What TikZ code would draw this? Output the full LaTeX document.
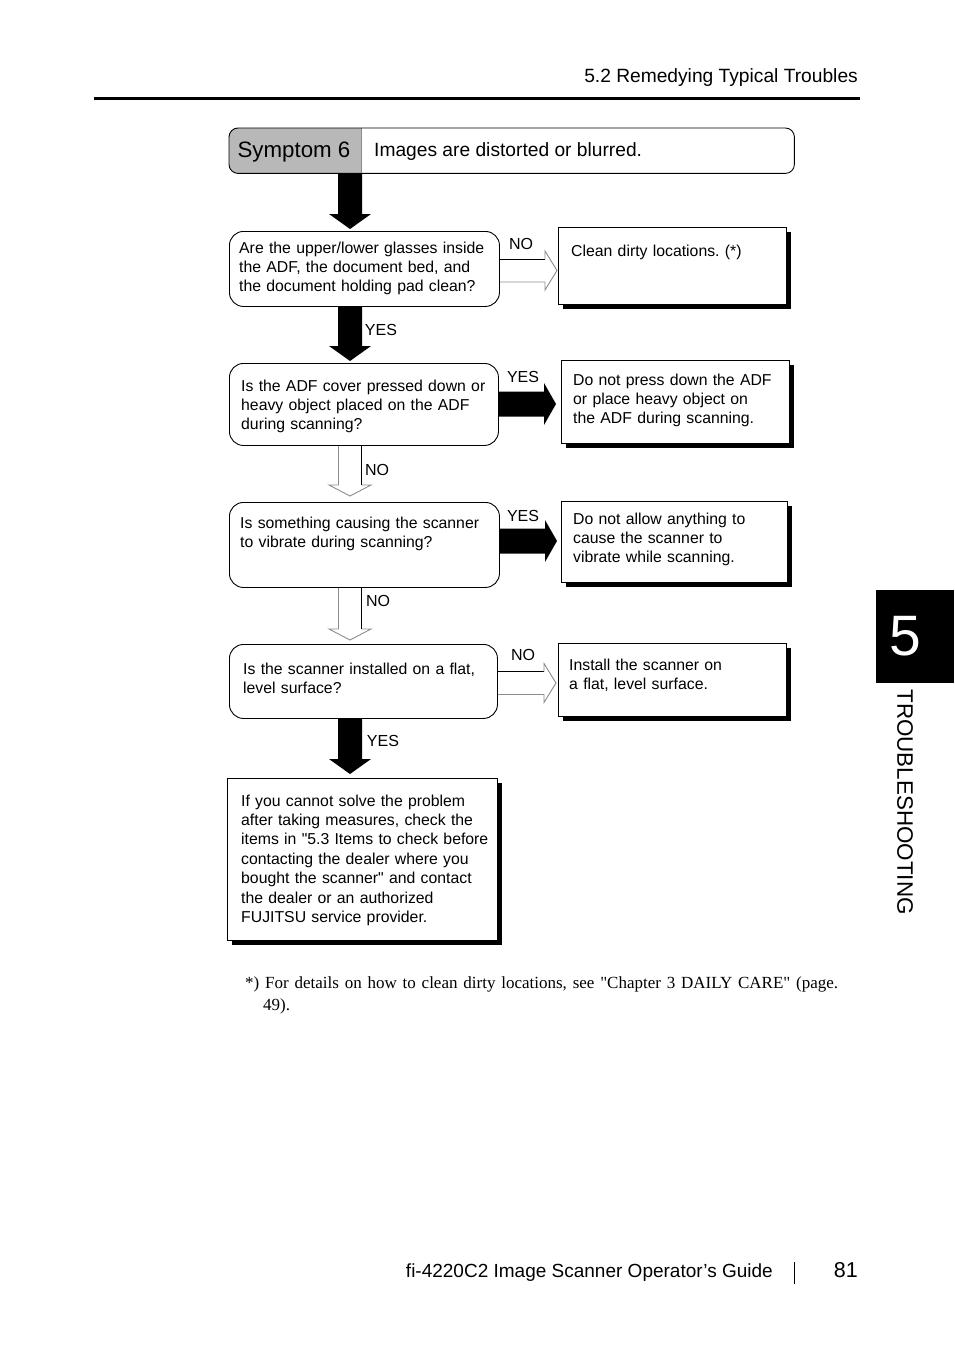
\documentclass[tikz,border=0pt]{standalone}
\usepackage{fontspec}
\setmainfont{Liberation Sans}
\newfontfamily\sansface{Liberation Sans}
\newfontfamily\serifface{Liberation Serif}
\usetikzlibrary{calc,shadows}
\definecolor{symgray}{gray}{0.72}
\definecolor{edgegray}{gray}{0.55}
\newcommand\bodyfont{\fontsize{15.8pt}{19.4pt}\selectfont}
\newcommand\blackdown[2]{\fill ($(#1)+(-12,0)$) -- ($(#2)+(-12,-15)$) -- ($(#2)+(-21,-15)$) -- (#2) -- ($(#2)+(21,-15)$) -- ($(#2)+(12,-15)$) -- ($(#1)+(12,0)$) -- cycle;}
\newcommand\blackright[2]{\fill ($(#1)+(0,-12.5)$) -- ($(#2)+(-12,-12.5)$) -- ($(#2)+(-12,-21)$) -- (#2) -- ($(#2)+(-12,21)$) -- ($(#2)+(-12,12.5)$) -- ($(#1)+(0,12.5)$) -- cycle;}
\newcommand\hollowdown[2]{%
  \draw[edgegray, line width=0.9pt] ($(#1)+(-11.5,0)$) -- ($(#2)+(-11.5,-11)$) -- ($(#2)+(-21,-11)$) -- (#2) -- ($(#2)+(21,-11)$) -- ($(#2)+(11.5,-11)$);
  \draw[black, line width=0.9pt] ($(#2)+(11.5,-11)$) -- ($(#1)+(11.5,0)$);}
\newcommand\hollowright[2]{%
  \draw[black, line width=0.9pt] ($(#1)+(0,-11.5)$) -- ($(#2)+(-12,-11.5)$);
  \draw[edgegray, line width=0.9pt] ($(#2)+(-12,-11.5)$) -- ($(#2)+(-12,-19.5)$) -- (#2) -- ($(#2)+(-12,19.5)$) -- ($(#2)+(-12,11.5)$) -- ($(#1)+(0,11.5)$);}
\begin{document}
\sansface\frenchspacing
\begin{tikzpicture}[x=1pt,y=-1pt,
  qbox/.style={draw, line width=0.9pt, rounded corners=14pt, inner sep=0pt, anchor=north west},
  rbox/.style={draw, fill=white, line width=0.9pt, inner sep=0pt, anchor=north west,
     drop shadow={shadow xshift=5pt, shadow yshift=-5pt, fill=black, opacity=1}},
  txt/.style={anchor=base west, inner sep=0pt, text width=300pt, align=left, font=\bodyfont},
  lab/.style={inner sep=0pt, font=\fontsize{16pt}{16pt}\selectfont}]
\useasboundingbox (0,0) rectangle (954,1351);
\fill[white] (0,0) rectangle (954,1351);

% header
\node[anchor=base east, inner sep=0pt, font=\fontsize{19.2pt}{20pt}\selectfont] (head) at (858,83) {5.2 Remedying Typical Troubles};
\draw[line width=3pt] (94,99) -- (860,99);

% symptom box
\node[minimum width=565pt, minimum height=45pt, anchor=north west, inner sep=0pt] (sym) at (229,128) {};
\begin{scope}
  \clip[rounded corners=9pt] (sym.north west) rectangle (sym.south east);
  \fill[symgray] (sym.north west) rectangle (361,173);
\end{scope}
\draw[edgegray, line width=0.8pt] (361,128) -- (361,173);
\draw[rounded corners=9pt, line width=0.9pt] (sym.north west) rectangle (sym.south east);
\node[anchor=base, inner sep=0pt, font=\fontsize{22.3pt}{23pt}\selectfont] (symlab) at (294,158) {Symptom 6};
\node[anchor=base west, inner sep=0pt, font=\fontsize{19.2pt}{20pt}\selectfont] (symtxt) at (374,157) {Images are distorted or blurred.};

% boxes
\node[qbox, minimum width=270pt, minimum height=75pt] (q1) at (229,231) {};
\node[rbox, minimum width=228pt, minimum height=77pt] (r1) at (558,227) {};
\node[qbox, minimum width=269pt, minimum height=82pt] (q2) at (229,363) {};
\node[rbox, minimum width=228pt, minimum height=83pt] (r2) at (561,360) {};
\node[qbox, minimum width=270pt, minimum height=85pt] (q3) at (229,502) {};
\node[rbox, minimum width=226pt, minimum height=81pt] (r3) at (561,501) {};
\node[qbox, minimum width=268pt, minimum height=74pt] (q4) at (229,644) {};
\node[rbox, minimum width=228pt, minimum height=73pt] (r4) at (558,643) {};
\node[rbox, minimum width=270pt, minimum height=162pt] (fin) at (227,778) {};

% texts
\node[txt] (t1) at (239,253) {Are the upper/lower glasses inside\\the ADF, the document bed, and\\the document holding pad clean?};
\node[txt] (tr1) at (571,256) {Clean dirty locations. (*)};
\node[txt] (t2) at (241,391) {Is the ADF cover pressed down or\\heavy object placed on the ADF\\during scanning?};
\node[txt] (tr2) at (573,385) {Do not press down the ADF\\or place heavy object on\\the ADF during scanning.};
\node[txt] (t3) at (240,528) {Is something causing the scanner\\to vibrate during scanning?};
\node[txt] (tr3) at (573,524) {Do not allow anything to\\cause the scanner to\\vibrate while scanning.};
\node[txt] (t4) at (243,674) {Is the scanner installed on a flat,\\level surface?};
\node[txt] (tr4) at (569,670) {Install the scanner on\\a flat, level surface.};
\node[txt] (tf) at (241,806) {If you cannot solve the problem\\after taking measures, check the\\items in "5.3 Items to check before\\contacting the dealer where you\\bought the scanner" and contact\\the dealer or an authorized\\FUJITSU service provider.};

% arrow coordinates
\coordinate (ax) at (350,0);
\coordinate (y1) at (0,270.5);
\coordinate (y2) at (0,404);
\coordinate (y3) at (0,541);
\coordinate (y4) at (0,683);
\coordinate (a1s) at (sym.south -| ax);
\coordinate (a1e) at ($(q1.north -| ax)+(0,-2)$);
\coordinate (a2s) at (q1.south -| ax);
\coordinate (a2e) at ($(q2.north -| ax)+(0,-2)$);
\coordinate (h1s) at (q2.south -| ax);
\coordinate (h1e) at ($(q3.north -| ax)+(0,-6)$);
\coordinate (h2s) at (q3.south -| ax);
\coordinate (h2e) at ($(q4.north -| ax)+(0,-4)$);
\coordinate (a3s) at (q4.south -| ax);
\coordinate (a3e) at ($(fin.north -| ax)+(0,-4)$);
\coordinate (hr1s) at (q1.east |- y1);
\coordinate (hr1e) at ($(r1.west |- y1)+(-1,0)$);
\coordinate (b1s) at (q2.east |- y2);
\coordinate (b1e) at ($(r2.west |- y2)+(-5,0)$);
\coordinate (b2s) at (q3.east |- y3);
\coordinate (b2e) at ($(r3.west |- y3)+(-4,0)$);
\coordinate (hr2s) at (q4.east |- y4);
\coordinate (hr2e) at ($(r4.west |- y4)+(-2,0)$);

\blackdown{a1s}{a1e}
\blackdown{a2s}{a2e}
\blackdown{a3s}{a3e}
\hollowdown{h1s}{h1e}
\hollowdown{h2s}{h2e}
\blackright{b1s}{b1e}
\blackright{b2s}{b2e}
\hollowright{hr1s}{hr1e}
\hollowright{hr2s}{hr2e}

% labels
\node[lab] (l1) at (521,244) {NO};
\node[lab] (l2) at (381,330) {YES};
\node[lab] (l3) at (523,377) {YES};
\node[lab] (l4) at (377,470) {NO};
\node[lab] (l5) at (523,516) {YES};
\node[lab] (l6) at (378,601) {NO};
\node[lab] (l7) at (523,655) {NO};
\node[lab] (l8) at (383,741) {YES};

% footnote
\node[anchor=base west, inner sep=0pt, font=\serifface\fontsize{17pt}{22pt}\selectfont, align=left] (note) at (245,1010)
  {\makebox[593pt][s]{*) For details on how to clean dirty locations, see "Chapter 3 DAILY CARE" (page.}\\\hspace*{18pt}49).};

% side tab
\node[fill=black, minimum width=78pt, minimum height=93pt, anchor=north west, inner sep=0pt] (tab) at (876,590) {};
\node[text=white, inner sep=0pt, font=\fontsize{57pt}{57pt}\selectfont] (five) at (905,636) {5};
\node[rotate=-90, inner sep=0pt, font=\fontsize{22.4pt}{23pt}\selectfont] (side) at (905,802) {TROUBLESHOOTING};

% footer
\node[anchor=base east, inner sep=0pt, font=\fontsize{19pt}{20pt}\selectfont] (foot) at (773,1277) {fi-4220C2 Image Scanner Operator’s Guide};
\draw[line width=0.9pt] (794,1262) -- (794,1284);
\node[anchor=base east, inner sep=0pt, font=\fontsize{21.5pt}{22pt}\selectfont] (page) at (858,1277) {81};
\end{tikzpicture}
\end{document}
